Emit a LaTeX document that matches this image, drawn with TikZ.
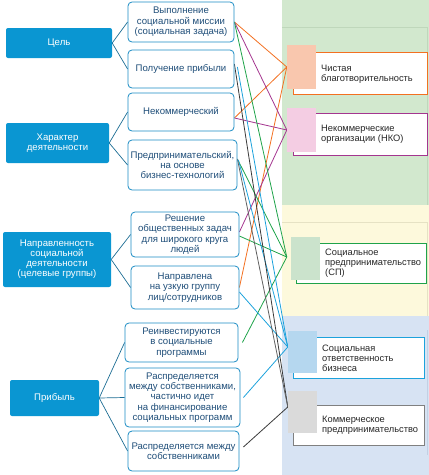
\documentclass[tikz,border=0pt]{standalone}
\usepackage{fontspec}
\setmainfont{Liberation Sans}
\definecolor{lboxfill}{HTML}{0A96D2}
\definecolor{mborder}{HTML}{1A8CC4}
\definecolor{mtext}{HTML}{1F4E79}
\definecolor{treeline}{HTML}{1D6D94}
\definecolor{cOr}{HTML}{F37021}
\definecolor{cPu}{HTML}{A4358F}
\definecolor{cGr}{HTML}{1FA34A}
\definecolor{cCy}{HTML}{1CA2DC}
\definecolor{cDk}{HTML}{3A3A3A}
\definecolor{cGy}{HTML}{808080}
\definecolor{bgG}{HTML}{D2E8CE}
\definecolor{bgY}{HTML}{FDF9DC}
\definecolor{bgB}{HTML}{D7E3F3}
\definecolor{lnG}{HTML}{BFD7BB}
\definecolor{lnY}{HTML}{E6E2C4}
\definecolor{lnB}{HTML}{C2D0E4}
\definecolor{sqOr}{HTML}{F9C7AE}
\definecolor{sqPu}{HTML}{F4CDE3}
\definecolor{sqGr}{HTML}{CBE3CC}
\definecolor{sqCy}{HTML}{B5D7EF}
\definecolor{sqGy}{HTML}{DADADA}
\pgfdeclarelayer{back}
\pgfdeclarelayer{lines}
\pgfsetlayers{back,lines,main}
\tikzset{
  lbox/.style={fill=lboxfill, rounded corners=2pt, text=white, align=center,
    font=\fontsize{9.6}{10}\selectfont, inner sep=0pt},
  mbox/.style={draw=mborder, fill=white, line width=0.8pt, rounded corners=4pt,
    text=mtext, align=center, font=\fontsize{9.6}{10.4}\selectfont, inner sep=0pt},
  catbox/.style={fill=white, line width=1pt, inner sep=0pt},
  sqr/.style={minimum width=29pt, inner sep=0pt},
  cattext/.style={anchor=west, align=left, text=black!85,
    font=\fontsize{9.3}{10}\selectfont, inner sep=0pt},
  tree/.style={draw=treeline, line width=0.7pt},
  conn/.style={line width=0.8pt},
}
\begin{document}
\begin{tikzpicture}[x=1pt,y=-1pt]
\useasboundingbox (0,0) rectangle (429,475);
\begin{pgfonlayer}{back}
\fill[bgG] (282,0) rectangle (429,205);
\fill[bgY] (282,205) rectangle (429,316);
\fill[bgB] (282,316) rectangle (429,475);
\draw[lnG, line width=0.6pt] (282,27) -- (427,27) -- (427,205);
\draw[lnY, line width=0.6pt] (282,222) -- (427,222) -- (427,316);
\draw[lnB, line width=0.6pt] (427,330) -- (427,455);
\end{pgfonlayer}

% left boxes
\node[lbox, minimum width=106pt, minimum height=30pt] (l1) at (59,43) {Цель};
\node[lbox, minimum width=103pt, minimum height=40pt] (l2) at (57.5,143) {Характер\\деятельности};
\node[lbox, minimum width=108pt, minimum height=55pt] (l3) at (57,259.5) {Направленность\\социальной\\деятельности\\(целевые группы)};
\node[lbox, minimum width=89pt, minimum height=36pt] (l4) at (54.5,398) {Прибыль};

% middle boxes
\node[mbox, minimum width=106pt, minimum height=40pt] (m1) at (181,22) {Выполнение\\социальной миссии\\(социальная задача)};
\node[mbox, minimum width=106pt, minimum height=38pt] (m2) at (181,69) {Получение прибыли};
\node[mbox, minimum width=106pt, minimum height=38pt] (m3) at (181,112) {Некоммерческий};
\node[mbox, minimum width=109pt, minimum height=50pt] (m4) at (182.5,165) {Предпринимательский,\\на основе\\бизнес-технологий};
\node[mbox, minimum width=108pt, minimum height=45pt] (m5) at (185,234.5) {Решение\\общественных задач\\для широкого круга\\людей};
\node[mbox, minimum width=108pt, minimum height=43pt] (m6) at (185,287.5) {Направлена\\на узкую группу\\лиц/сотрудников};
\node[mbox, minimum width=113pt, minimum height=39pt] (m7) at (181.5,342.5) {Реинвестируются\\в социальные\\программы};
\node[mbox, minimum width=115pt, minimum height=59pt] (m8) at (182.5,397.5) {Распределяется\\между собственниками,\\частично идет\\на финансирование\\социальных программ};
\node[mbox, minimum width=111pt, minimum height=40pt] (m9) at (183.5,451) {Распределяется между\\собственниками};

% category boxes
\node[catbox, draw=cOr, minimum width=134pt, minimum height=42pt] (r1) at (360,73) {};
\node[catbox, draw=cPu, minimum width=134pt, minimum height=42pt] (r2) at (360,134) {};
\node[catbox, draw=cGr, minimum width=130pt, minimum height=40pt] (r3) at (361,263) {};
\node[catbox, draw=cCy, minimum width=131pt, minimum height=41pt] (r4) at (358.5,357.5) {};
\node[catbox, draw=cGy, minimum width=131pt, minimum height=40pt] (r5) at (358.5,425) {};
\node[sqr, fill=sqOr, minimum height=44pt] (s1) at (301.5,67) {};
\node[sqr, fill=sqPu, minimum height=44pt] (s2) at (301.5,130) {};
\node[sqr, fill=sqGr, minimum height=43pt] (s3) at (305.5,258.5) {};
\node[sqr, fill=sqCy, minimum height=42pt] (s4) at (302.5,352) {};
\node[sqr, fill=sqGy, minimum height=42pt] (s5) at (302.5,412) {};
\node[cattext] (t1) at (321,74) {Чистая\\благотворительность};
\node[cattext] (t2) at (321,134) {Некоммерческие\\организации (НКО)};
\node[cattext] (t3) at (325,263) {Социальное\\предпринимательство\\(СП)};
\node[cattext] (t4) at (322,358) {Социальная\\ответственность\\бизнеса};
\node[cattext] (t5) at (322,425.5) {Коммерческое\\предпринимательство};

\begin{pgfonlayer}{lines}
% tree
\draw[tree] (l1.east) -- (m1.west);
\draw[tree] (l1.east) -- (m2.west);
\draw[tree] (l2.east) -- (m3.west);
\draw[tree] (l2.east) -- (m4.west);
\draw[tree] (l3.east) -- (m5.west);
\draw[tree] (l3.east) -- (m6.west);
\draw[tree] (l4.east) -- (m7.west);
\draw[tree] (l4.east) -- (m8.west);
\draw[tree] (l4.east) -- (m9.west);
% orange
\draw[conn, cOr] (m1.east) -- (s1.west);
\draw[conn, cOr] ([yshift=-6pt]m3.east) -- (s1.west);
\draw[conn, cOr] (m6.east) -- (s1.west);
% purple
\draw[conn, cPu] (m1.east) -- (s2.west);
\draw[conn, cPu] ([yshift=-6pt]m3.east) -- (s2.west);
\draw[conn, cPu] ([yshift=2.5pt]m5.east) -- (s2.west);
% green
\draw[conn, cGr] (m1.east) -- ([xshift=-4pt,yshift=1.5pt]s3.west);
\draw[conn, cGr] ([yshift=6pt]m4.east) -- ([xshift=-4pt,yshift=1.5pt]s3.west);
\draw[conn, cGr] ([yshift=-1.5pt]m5.east) -- ([xshift=-4pt,yshift=1.5pt]s3.west);
\draw[conn, cGr] ([xshift=4pt]m7.east) -- ([xshift=-4pt,yshift=1.5pt]s3.west);
% cyan
\draw[conn, cCy] ([xshift=3pt,yshift=2pt]m2.east) -- ([yshift=5pt]s4.west);
\draw[conn, cCy] ([xshift=1pt,yshift=5pt]m4.east) -- ([yshift=5pt]s4.west);
\draw[conn, cCy] ([yshift=-4.5pt]m6.east) -- ([yshift=5pt]s4.west);
\draw[conn, cCy] ([xshift=3pt]m8.east) -- ([yshift=5pt]s4.west);
% dark
\draw[conn, cDk] ([yshift=5pt]m2.east) -- ([yshift=5pt]s5.west);
\draw[conn, cDk!80] ([yshift=6pt]m4.east) -- ([yshift=5pt]s5.west);
\draw[conn, cDk] ([xshift=4pt,yshift=4pt]m9.east) -- ([yshift=5pt]s5.west);
\end{pgfonlayer}
\end{tikzpicture}
\end{document}
